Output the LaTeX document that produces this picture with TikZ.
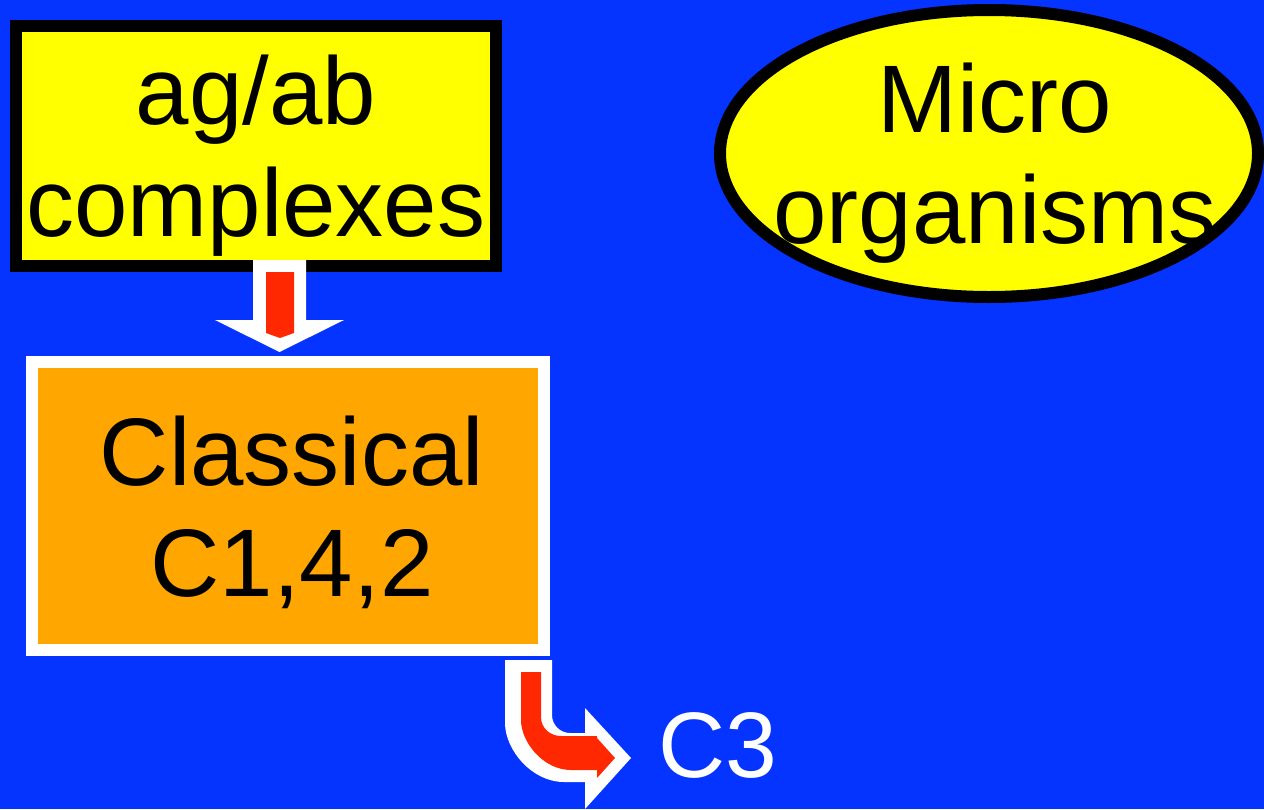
\documentclass[tikz,border=0pt]{standalone}
\usepackage{fontspec}
\setmainfont{Liberation Sans}
\usetikzlibrary{shapes.geometric}
\definecolor{bg}{RGB}{5,51,255}
\definecolor{ylw}{RGB}{255,255,0}
\definecolor{org}{RGB}{255,166,0}
\definecolor{arrred}{RGB}{255,40,0}
\tikzset{
  big/.style={font=\fontsize{96}{111}\selectfont, inner sep=0pt, anchor=base, text=black},
  ybox/.style={draw=black, line width=12pt, fill=ylw, inner sep=0pt, outer sep=0pt,
               minimum width=480pt, minimum height=240pt},
  yoval/.style={ellipse, draw=black, line width=12pt, fill=ylw, inner sep=0pt, outer sep=0pt,
               minimum width=538pt, minimum height=287pt},
  obox/.style={draw=white, line width=12pt, fill=org, inner sep=0pt, outer sep=0pt,
               minimum width=512pt, minimum height=288pt},
  outerarrow/.style={fill=white},
  innerarrow/.style={fill=arrred},
}
\begin{document}
\begin{tikzpicture}[x=1pt,y=-1pt]
  % background
  \fill[bg] (0,0) rectangle (1264,809);
  \useasboundingbox (0,0) rectangle (1264,809);

  % boxes
  \node[ybox] (ag) at (256,146) {};
  \node[big] at (256,124) {ag/ab};
  \node[big] at (256,236) {complexes};

  \node[yoval] (micro) at (989,153.5) {};
  \node[big] at (995,132) {Micro};
  \node[big] at (995,243) {organisms};

  \node[obox] (cl) at (288,506) {};
  \node[big] at (292,485) {Classical};
  \node[big] at (292,596) {C1,4,2};

  \node[font=\fontsize{93}{100}\selectfont, text=white, inner sep=0pt, anchor=base west]
    (c3) at (658,777) {C3};

  % block arrow from the complexes box down to the classical box
  \begin{scope}[shift={(ag.south)}]
    \fill[outerarrow] (-3,-6) -- (50,-6) -- (50,54) -- (88,54) -- (23.5,86)
      -- (-41,54) -- (-3,54) -- cycle;
    \fill[innerarrow] (10,6) -- (38,6) -- (38,67) -- (24,72) -- (10,67) -- cycle;
  \end{scope}

  % bent block arrow from the classical box towards C3
  \begin{scope}[shift={(cl.south east)}]
    \fill[outerarrow] (-39,10) -- (8,10) -- (8,65)
      .. controls (8,74.9) and (16.1,83) .. (26,83)
      -- (41,83) -- (41,58) -- (87,108) -- (41,159) -- (41,132) -- (20,132)
      .. controls (-12.6,132) and (-39,99.4) .. (-39,73) -- cycle;
    \fill[innerarrow] (-23,22) -- (-3,22) -- (-3,67)
      .. controls (-3,78) and (6,86) .. (17,86)
      -- (53,86) -- (53,88) -- (71,108) -- (53,128) -- (53,120) -- (27,120)
      .. controls (-0.6,120) and (-23,92.4) .. (-23,70) -- cycle;
  \end{scope}
\end{tikzpicture}
\end{document}
